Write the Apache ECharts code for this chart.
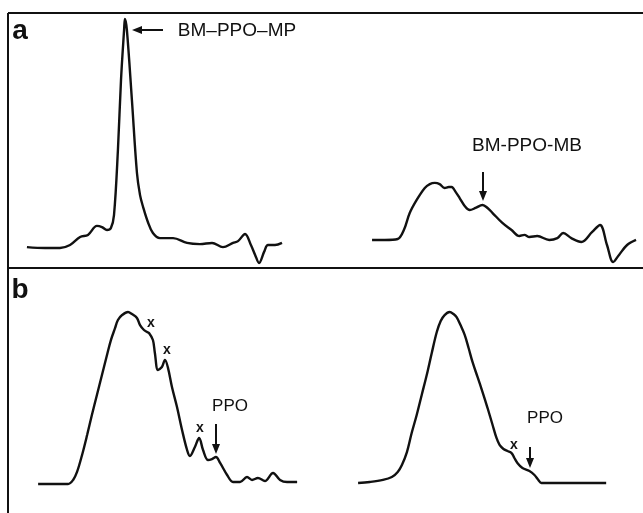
<!DOCTYPE html>
<html>
<head>
<meta charset="UTF-8">
<title>BM-PPO chromatograms</title>
<script src="https://cdn.jsdelivr.net/npm/echarts@6/dist/echarts.min.js"></script>
<style>
  html, body { margin: 0; padding: 0; background: #fff; }
  #main { width: 643px; height: 513px; }
</style>
</head>
<body>
<div id="main"></div>
<script>
// elution position (arbitrary units) and detector response (% of largest peak)
var aLeftX = [3.9, 10.4, 15.7, 19.3, 22.9, 25.7, 28.9, 30.7, 32.5, 33.9, 35.0, 36.4, 37.5, 38.6, 38.9, 39.6, 41.4, 43.2, 44.3, 45.4, 47.1, 48.9, 51.4, 56.1, 61.1, 65.7, 70.0, 73.9, 77.5, 79.3, 81.8, 83.9, 85.4, 86.8, 88.6, 90.0, 92.5, 95.0];
var aLeftY = [0.4, 0, 0, 1.3, 4.8, 5.7, 9.6, 9.1, 7.8, 8.7, 14.3, 42.6, 73, 94.8, 99.6, 94.8, 64.3, 32.6, 23, 17.8, 11.3, 6.5, 4.3, 4.3, 2.2, 1.7, 2.2, 0.4, 2.2, 3.0, 6.1, 1.3, -3.0, -6.5, -1.7, 1.3, 1.3, 2.2];

var aRightX = [7.9, 12.5, 17.1, 19.3, 21.4, 23.9, 26.8, 28.6, 30.4, 32.1, 33.9, 35.4, 36.4, 37.9, 39.3, 41.1, 42.9, 45.0, 47.5, 49.3, 51.1, 54.6, 57.9, 60.7, 62.5, 64.3, 67.1, 71.4, 74.3, 76.4, 79.3, 82.9, 86.8, 89.6, 92.1, 94.3, 96.4, 99.3, 102.5];
var aRightY = [3.5, 3.5, 3.9, 7.8, 15.2, 20.9, 26.1, 27.8, 28.3, 27.8, 26.1, 26.5, 26.5, 24.3, 21.7, 18.3, 16.5, 17.4, 18.7, 17.4, 15.2, 10.9, 7.8, 5.2, 5.7, 4.8, 5.2, 3.5, 4.3, 6.5, 4.3, 2.6, 7.0, 10.0, 1.3, -6.1, -3.0, 1.3, 3.5];

var bLeftX = [7.9, 13.9, 18.6, 20.4, 21.8, 23.6, 25.4, 27.1, 28.9, 30.7, 32.5, 33.9, 35.4, 36.4, 37.9, 40.0, 41.4, 43.2, 44.3, 45.7, 46.8, 47.5, 48.9, 49.6, 50.7, 52.1, 53.2, 54.3, 55.7, 57.5, 59.3, 61.1, 62.1, 63.9, 65.4, 66.8, 68.6, 70.0, 71.4, 72.9, 75.4, 77.5, 80.0, 82.5, 84.3, 86.4, 88.9, 91.8, 94.3, 96.8, 100.4];
var bLeftY = [-0.6, -0.6, -0.6, 1.8, 6.5, 16.5, 28.2, 40, 51.8, 63.5, 75.3, 84.1, 91.2, 95.9, 98.8, 100.6, 99.4, 97.1, 92.9, 90.0, 88.8, 88.2, 84.1, 76.5, 66.5, 68.2, 72.4, 67.6, 56.5, 44.7, 31.2, 19.4, 15.9, 21.2, 26.5, 19.4, 13.5, 14.1, 15.3, 11.8, 4.7, 0.6, 0.6, 3.5, 1.8, 2.9, 1.2, 5.9, 1.8, 0.6, 0.6];

var bRightX = [2.9, 7.1, 11.8, 15.0, 17.1, 18.6, 20.4, 22.1, 23.9, 25.7, 27.5, 29.3, 31.1, 32.5, 33.9, 35.7, 37.1, 38.2, 39.6, 41.1, 42.5, 43.9, 45.7, 47.5, 49.3, 51.1, 52.5, 53.6, 55.0, 56.4, 57.9, 58.9, 60.0, 61.8, 64.3, 66.1, 67.5, 68.6, 77.5, 91.8];
var bRightY = [0, 0.6, 1.8, 3.5, 6.5, 10.6, 18.2, 29.4, 40, 51.8, 63.5, 76.5, 88.8, 95.3, 98.8, 100.6, 99.4, 97.6, 92.9, 87.1, 79.4, 71.2, 62.4, 53.5, 44.1, 34.1, 26.5, 22.4, 20.0, 18.8, 17.6, 14.7, 11.8, 8.8, 7.1, 4.7, 1.8, 0, 0, 0];

function zip(xs, ys) {
  var out = [];
  for (var i = 0; i < xs.length; i++) out.push([xs[i], ys[i]]);
  return out;
}

var font = '"Liberation Sans", Arial, sans-serif';
var ink = '#111';

var myChart = echarts.init(document.getElementById('main'));

var grids = [
  { left: 16, width: 294, top: 6.5, height: 264.5 },
  { left: 350, width: 294, top: 6.5, height: 264.5 },
  { left: 16, width: 294, top: 304.5, height: 195.5 },
  { left: 350, width: 294, top: 304.5, height: 195.5 }
];
var traces = [zip(aLeftX, aLeftY), zip(aRightX, aRightY), zip(bLeftX, bLeftY), zip(bRightX, bRightY)];

var xAxes = [], yAxes = [], series = [];
for (var i = 0; i < 4; i++) {
  xAxes.push({ gridIndex: i, type: 'value', min: 0, max: 105, show: false });
  yAxes.push({ gridIndex: i, type: 'value', min: -10, max: 105, show: false });
  series.push({
    type: 'line', xAxisIndex: i, yAxisIndex: i, data: traces[i],
    showSymbol: false, smooth: 0.35, silent: true,
    lineStyle: { color: ink, width: 2.4 }
  });
}

// arrow helper: shaft + head, tip at (tx, ty)
function arrow(x1, y1, tx, ty) {
  var dx = tx - x1, dy = ty - y1, len = Math.sqrt(dx * dx + dy * dy);
  var ux = dx / len, uy = dy / len, hl = 10, hw = 4;
  var bx = tx - ux * hl, by = ty - uy * hl;
  return [
    { type: 'line', shape: { x1: x1, y1: y1, x2: bx, y2: by }, style: { stroke: ink, lineWidth: 2 } },
    { type: 'polygon', shape: { points: [[tx, ty], [bx - uy * hw, by + ux * hw], [bx + uy * hw, by - ux * hw]] }, style: { fill: ink } }
  ];
}

function label(text, x, y, size, weight) {
  return {
    type: 'text', x: x, y: y,
    style: { text: text, font: (weight || 'normal') + ' ' + size + 'px ' + font, fill: ink, align: 'center', verticalAlign: 'middle' }
  };
}

var graphic = [
  // frame
  { type: 'line', shape: { x1: 8, y1: 13, x2: 643, y2: 13 }, style: { stroke: ink, lineWidth: 2 } },
  { type: 'line', shape: { x1: 8, y1: 13, x2: 8, y2: 513 }, style: { stroke: ink, lineWidth: 2 } },
  { type: 'line', shape: { x1: 8, y1: 268, x2: 643, y2: 268 }, style: { stroke: ink, lineWidth: 2 } },
  label('a', 20, 31, 28, 'bold'),
  label('b', 20, 290, 28, 'bold'),
  label('BM\u2013PPO\u2013MP', 237, 31, 19),
  label('BM-PPO-MB', 527, 146, 19),
  label('x', 151, 323, 14, 'bold'),
  label('x', 167, 350, 14, 'bold'),
  label('x', 200, 428, 14, 'bold'),
  label('PPO', 230, 406, 17),
  label('x', 514, 445, 14, 'bold'),
  label('PPO', 545, 418, 17)
];
graphic = graphic
  .concat(arrow(163, 30, 132, 30))
  .concat(arrow(483, 172, 483, 201))
  .concat(arrow(216, 424, 216, 454))
  .concat(arrow(530, 447, 530, 468));

var option = {
  backgroundColor: '#fff',
  animation: false,
  grid: grids,
  xAxis: xAxes,
  yAxis: yAxes,
  series: series,
  graphic: graphic
};

myChart.setOption(option);
</script>
</body>
</html>
